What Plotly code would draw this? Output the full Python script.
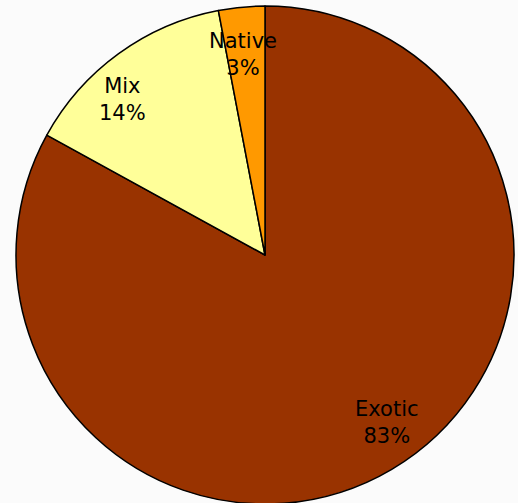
import plotly.graph_objects as go

labels = ["Exotic", "Mix", "Native"]
values = [83, 14, 3]
colors = ["#993300", "#FFFF99", "#FF9900"]

# label centres in pixels from top-left (x, y)
label_px = [(387, 422), (122, 100), (243, 54)]

W, H = 518, 506  # a bit taller than the window so the pie bleeds off the bottom
cx, cy, r = 265, 255, 249

fig = go.Figure(go.Pie(
    labels=labels,
    values=values,
    sort=False,
    direction="clockwise",
    rotation=0,
    marker=dict(colors=colors, line=dict(color="black", width=1.5)),
    textinfo="none",
    hoverinfo="label+percent",
    showlegend=False,
    domain=dict(x=[(cx - r) / W, (cx + r) / W],
                y=[(H - cy - r) / H, (H - cy + r) / H]),
))

total = sum(values)
for lab, val, (lx, ly) in zip(labels, values, label_px):
    fig.add_annotation(
        x=lx / W, y=1 - ly / H, xref="paper", yref="paper",
        xanchor="center", yanchor="middle",
        text=f"{lab}<br>{round(val / total * 100)}%",
        showarrow=False,
        font=dict(family="DejaVu Sans, Verdana", size=21, color="black"),
    )

fig.update_layout(
    width=W, height=H,
    margin=dict(l=0, r=0, t=0, b=0),
    paper_bgcolor="#FBFBFB",
    plot_bgcolor="#FBFBFB",
)

fig.write_html("out.html", config={"displayModeBar": False},
               post_script="document.body.style.margin='0';document.body.style.background='#FBFBFB';document.body.style.overflow='hidden';")
